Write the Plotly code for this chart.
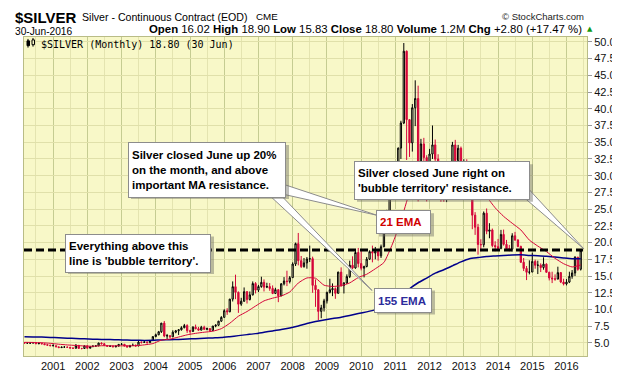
import plotly.graph_objects as go
import pandas as pd

# ---------------- data (monthly, Mar 2000 .. Jun 2016) ----------------
months = pd.date_range("2000-03-01", "2016-06-01", freq="MS")

opens = [
    5.06, 4.98, 4.99, 4.99, 5.06, 4.88, 4.96, 4.87, 4.75, 4.67,
    4.59, 4.60, 4.42, 4.31, 4.38, 4.38, 4.36, 4.24, 4.20, 4.65, 4.19, 4.18,
    4.58, 4.22, 4.44, 4.53, 4.56, 4.99, 4.88, 4.63, 4.52, 4.53, 4.42, 4.53,
    4.79, 4.81, 4.54, 4.40, 4.64, 4.65, 4.56, 5.14, 5.09, 5.13, 5.06, 5.35,
    5.96, 6.23, 6.68, 7.97, 6.05, 6.10, 5.92, 6.61, 6.82, 6.98, 7.28, 7.60,
    6.84, 6.73, 7.37, 7.13, 6.92, 7.35, 7.04, 7.15, 6.86, 7.53, 7.66, 8.26,
    8.83, 9.83, 9.66, 11.55, 13.41, 12.57, 10.80, 11.24, 12.67, 11.50, 12.19, 13.88,
    12.90, 13.43, 14.06, 13.34, 13.43, 13.15, 12.40, 12.97, 12.05, 13.84, 14.26, 14.18,
    14.76, 16.80, 19.84, 17.30, 16.42, 16.97, 17.54, 17.60, 13.61, 12.96, 9.72, 10.25,
    11.30, 12.57, 12.95, 13.12, 12.42, 15.59, 13.58, 13.97, 14.92, 16.62, 16.21, 18.52,
    16.87, 16.17, 16.43, 17.53, 18.65, 18.43, 18.69, 18.02, 19.39, 21.84, 24.71, 28.31,
    30.92, 27.91, 34.12, 37.87, 48.60, 38.37, 34.89, 40.15, 41.53, 29.96, 34.74, 32.70,
    27.92, 33.23, 34.60, 32.48, 31.20, 28.30, 27.44, 27.80, 31.25, 34.59, 32.24, 34.10,
    29.95, 31.86, 28.52, 28.35, 24.10, 22.30, 19.72, 19.68, 24.40, 21.69, 21.89, 19.55,
    19.39, 19.13, 21.22, 19.74, 19.07, 19.03, 21.02, 20.39, 19.42, 17.07, 16.14, 15.57,
    15.60, 17.19, 16.61, 16.63, 16.28, 16.78, 15.56, 14.72, 14.59, 14.54, 15.52, 14.11,
    13.82, 14.10, 14.96, 15.46, 17.83, 16.02,
]
highs = [
    5.15, 5.12, 5.08, 5.12, 5.10, 5.02, 5.02, 4.92, 4.80, 4.74,
    4.82, 4.62, 4.45, 4.45, 4.55, 4.46, 4.40, 4.34, 4.85, 4.67, 4.25, 4.62,
    4.60, 4.52, 4.64, 4.66, 5.04, 5.10, 5.02, 4.68, 4.62, 4.58, 4.62, 4.82,
    5.00, 4.82, 4.62, 4.70, 4.92, 4.78, 5.30, 5.20, 5.30, 5.22, 5.45, 5.98,
    6.40, 6.80, 7.99, 8.29, 6.35, 6.15, 6.90, 6.95, 7.03, 7.50, 7.85, 7.80,
    6.97, 7.50, 7.75, 7.40, 7.56, 7.58, 7.30, 7.20, 7.55, 7.78, 8.30, 9.00,
    10.05, 10.20, 11.60, 14.20, 15.21, 12.70, 11.75, 13.30, 12.75, 12.70, 14.20, 14.10,
    13.68, 14.90, 14.50, 14.00, 13.95, 13.60, 13.25, 12.98, 13.95, 14.85, 15.80, 15.00,
    17.05, 20.00, 21.44, 18.00, 17.70, 17.85, 19.55, 17.90, 14.50, 13.00, 10.70, 11.60,
    12.65, 14.60, 13.90, 13.30, 15.65, 16.30, 14.10, 15.25, 17.30, 17.95, 18.95, 19.20,
    18.85, 16.55, 17.85, 18.85, 19.55, 19.35, 18.70, 19.70, 21.90, 24.90, 29.35, 31.00,
    31.00, 34.20, 38.20, 49.82, 48.70, 38.40, 40.70, 44.25, 43.45, 35.50, 35.65, 33.05,
    34.00, 37.50, 35.40, 33.20, 31.45, 29.30, 28.60, 31.40, 35.05, 35.35, 34.60, 34.35,
    32.45, 32.45, 29.25, 28.45, 24.55, 22.80, 20.50, 24.65, 25.10, 22.90, 22.10, 20.20,
    20.55, 21.90, 21.95, 20.40, 19.65, 21.40, 21.60, 20.50, 19.55, 17.70, 16.50, 17.35,
    18.50, 17.45, 17.30, 16.90, 17.80, 16.90, 15.65, 15.65, 15.25, 16.40, 15.40, 14.60,
    14.55, 15.65, 15.90, 17.95, 17.85, 18.90,
]
lows = [
    4.92, 4.94, 4.90, 4.92, 4.85, 4.83, 4.82, 4.70, 4.62, 4.53,
    4.52, 4.38, 4.27, 4.30, 4.33, 4.26, 4.20, 4.18, 4.20, 4.12, 4.05, 4.16,
    4.20, 4.21, 4.41, 4.49, 4.54, 4.78, 4.60, 4.45, 4.45, 4.40, 4.36, 4.50,
    4.70, 4.50, 4.37, 4.37, 4.60, 4.46, 4.52, 4.92, 5.05, 4.90, 5.02, 5.30,
    5.85, 6.16, 6.50, 5.86, 5.50, 5.70, 5.89, 6.45, 6.20, 6.85, 7.20, 6.50,
    6.40, 6.66, 7.05, 6.84, 6.90, 6.98, 6.90, 6.70, 6.80, 7.35, 7.52, 8.16,
    8.80, 9.20, 9.60, 11.20, 11.55, 9.50, 10.55, 11.15, 10.90, 11.35, 12.10, 12.40,
    12.60, 13.25, 12.70, 13.20, 12.80, 12.30, 12.35, 11.10, 12.00, 13.60, 13.50, 13.90,
    14.75, 16.50, 16.60, 16.20, 16.25, 16.10, 17.10, 12.50, 10.40, 8.40, 8.70, 9.70,
    10.90, 12.40, 12.00, 11.60, 12.40, 13.40, 12.40, 13.85, 14.70, 16.05, 16.10, 16.30,
    15.85, 14.80, 16.30, 17.40, 17.05, 17.50, 17.30, 17.70, 19.30, 21.70, 24.70, 26.50,
    26.40, 27.20, 32.50, 37.70, 32.35, 32.80, 33.60, 37.40, 26.15, 29.80, 30.85, 26.15,
    27.90, 32.50, 31.50, 30.60, 26.10, 26.10, 26.05, 26.90, 31.10, 31.50, 30.30, 29.60,
    29.90, 28.05, 27.95, 22.00, 21.15, 18.20, 18.70, 19.30, 21.25, 20.65, 19.30, 18.70,
    18.95, 19.00, 19.55, 18.75, 18.70, 18.65, 20.25, 19.30, 16.95, 15.75, 14.40, 15.25,
    15.60, 16.10, 15.30, 15.60, 15.95, 15.60, 14.35, 13.95, 14.30, 14.60, 13.95, 13.60,
    13.60, 13.95, 14.60, 15.00, 15.80, 15.83,
]
closes = [
    4.98, 4.99, 4.99, 5.06, 4.88, 4.96, 4.87, 4.75, 4.67, 4.59,
    4.60, 4.42, 4.31, 4.38, 4.38, 4.36, 4.24, 4.20, 4.65, 4.19, 4.18, 4.58,
    4.22, 4.44, 4.53, 4.56, 4.99, 4.88, 4.63, 4.52, 4.53, 4.42, 4.53, 4.79,
    4.81, 4.54, 4.40, 4.64, 4.65, 4.56, 5.14, 5.09, 5.13, 5.06, 5.35, 5.96,
    6.23, 6.68, 7.97, 6.05, 6.10, 5.92, 6.61, 6.82, 6.98, 7.28, 7.60, 6.84,
    6.73, 7.37, 7.13, 6.92, 7.35, 7.04, 7.15, 6.86, 7.53, 7.66, 8.26, 8.83,
    9.83, 9.66, 11.55, 13.41, 12.57, 10.80, 11.24, 12.67, 11.50, 12.19, 13.88, 12.90,
    13.43, 14.06, 13.34, 13.43, 13.15, 12.40, 12.97, 12.05, 13.84, 14.26, 14.18, 14.76,
    16.80, 19.84, 17.30, 16.42, 16.97, 17.54, 17.60, 13.61, 12.96, 9.72, 10.25, 11.30,
    12.57, 12.95, 13.12, 12.42, 15.59, 13.58, 13.97, 14.92, 16.62, 16.21, 18.52, 16.87,
    16.17, 16.43, 17.53, 18.65, 18.43, 18.69, 18.02, 19.39, 21.84, 24.71, 28.31, 30.92,
    27.91, 34.12, 37.87, 48.60, 38.37, 34.89, 40.15, 41.53, 29.96, 34.74, 32.70, 27.92,
    33.23, 34.60, 32.48, 31.20, 28.30, 27.44, 27.80, 31.25, 34.59, 32.24, 34.10, 29.95,
    31.86, 28.52, 28.35, 24.10, 22.30, 19.72, 19.68, 24.40, 21.69, 21.89, 19.55, 19.39,
    19.13, 21.22, 19.74, 19.07, 19.03, 21.02, 20.39, 19.42, 17.07, 16.14, 15.57, 15.60,
    17.19, 16.61, 16.63, 16.28, 16.78, 15.56, 14.72, 14.59, 14.54, 15.52, 14.11, 13.82,
    14.10, 14.96, 15.46, 17.83, 16.00, 18.80,
]

# moving averages, one value per quarter-end month
ema_months = pd.date_range("2000-03-01", "2016-06-01", freq="3MS")
ema21 = [
    5.10, 5.08, 5.04, 4.95,
    4.82, 4.71, 4.63, 4.55,
    4.51, 4.59, 4.58, 4.58,
    4.58, 4.59, 4.72, 4.91,
    5.43, 5.58, 5.89, 6.22,
    6.44, 6.61, 6.76, 7.14,
    7.95, 9.00, 9.70, 10.52,
    11.29, 11.70, 12.02, 12.62,
    13.96, 14.72, 14.68, 13.63,
    13.45, 13.56, 13.98, 14.78,
    15.27, 16.09, 17.03, 19.80,
    23.23, 27.45, 29.80, 30.24,
    31.03, 30.49, 30.72, 31.04,
    30.65, 28.47, 26.86, 25.20,
    23.92, 22.89, 21.89, 20.37,
    19.48, 18.66, 17.65, 16.85,
    16.36, 16.66,
]
ema155 = [
    5.95, 5.91, 5.88, 5.83,
    5.78, 5.72, 5.67, 5.62,
    5.57, 5.54, 5.51, 5.47,
    5.44, 5.41, 5.39, 5.40,
    5.46, 5.48, 5.53, 5.59,
    5.65, 5.70, 5.76, 5.82,
    5.95, 6.10, 6.25, 6.40,
    6.60, 6.80, 7.00, 7.25,
    7.55, 7.90, 8.20, 8.45,
    8.65, 8.85, 9.10, 9.40,
    9.65, 9.95, 10.40, 11.10,
    12.00, 13.10, 14.00, 14.70,
    15.44, 15.95, 16.53, 17.12,
    17.59, 17.76, 17.92, 18.01,
    18.09, 18.15, 18.18, 18.09,
    18.04, 17.97, 17.84, 17.71,
    17.60, 17.60,
]
bubble_level = 18.90
year_labels = [str(y) for y in range(2001, 2017)]
price_ticks = [5.0 + 2.5 * i for i in range(19)]

# ---------------- styling ----------------
W, H = 620, 376
ML, MR, MT, MB = 16, 41, 29, 16
PLOT_BG = "#F8F8C8"
RED = "#D5063A"
BLUE = "#00008B"
FONT = "Liberation Sans"


def px(x):
    return (x - ML) / (W - ML - MR)


def py(y):
    return (H - MB - y) / (H - MT - MB)


fig = go.Figure()

fig.add_trace(go.Candlestick(
    x=months, open=opens, high=highs, low=lows, close=closes,
    increasing=dict(line=dict(color="black", width=1), fillcolor=PLOT_BG),
    decreasing=dict(line=dict(color=RED, width=1), fillcolor=RED),
    whiskerwidth=0, showlegend=False, hoverinfo="skip",
))
fig.add_trace(go.Scatter(x=ema_months, y=ema155, mode="lines",
                         line=dict(color=BLUE, width=1.5, shape="spline", smoothing=0.5),
                         showlegend=False, hoverinfo="skip"))
fig.add_trace(go.Scatter(x=ema_months, y=ema21, mode="lines",
                         line=dict(color=RED, width=1, shape="spline", smoothing=0.5),
                         showlegend=False, hoverinfo="skip"))

jan_ticks = [pd.Timestamp(f"{y}-01-01") for y in year_labels]
jul_ticks = [pd.Timestamp(f"{y}-07-01") for y in range(2000, 2017)]

fig.update_xaxes(
    type="date", range=["2000-02-25", "2016-08-07"],
    tickvals=jan_ticks, ticktext=year_labels, ticks="",
    showgrid=True, gridcolor="#C5CC92", gridwidth=1,
    minor=dict(tickvals=jul_ticks, showgrid=True, gridcolor="#E4E4B0", gridwidth=1, ticks=""),
    showline=True, linecolor="#B9BC86", linewidth=1, mirror=True,
    rangeslider=dict(visible=False), zeroline=False,
    tickfont=dict(family=FONT, size=11, color="#111111"),
)
fig.update_yaxes(
    side="right", range=[3.056, 50.72],
    tickvals=price_ticks, ticktext=[f"{v:.1f}" for v in price_ticks],
    ticks="outside", ticklen=4, tickcolor="#999999",
    showgrid=True, gridcolor="#E0E0AA", gridwidth=1,
    showline=True, linecolor="#B9BC86", linewidth=1, mirror=True, zeroline=False,
    tickfont=dict(family=FONT, size=11, color="#111111"),
)

shapes = []
# bubble territory dashed line
shapes.append(dict(type="line", xref="x", yref="y", x0="2000-02-25", x1="2016-06-25",
                   y0=bubble_level, y1=bubble_level, layer="above",
                   line=dict(color="black", width=3, dash="8px,4px")))


def tail(p1, p2, tip):
    path = "M {},{} L {},{} L {},{} Z".format(px(p1[0]), py(p1[1]), px(p2[0]), py(p2[1]),
                                              px(tip[0]), py(tip[1]))
    return dict(type="path", xref="paper", yref="paper", path=path, layer="above",
                fillcolor="white", line=dict(color="#8C8C8C", width=1))


shapes.append(tail((266, 190), (276, 182), (369, 214)))
shapes.append(tail((258, 190), (270, 190), (364, 292)))
shapes.append(tail((512, 192), (520, 186), (576, 249)))

# legend icon (two tiny candles)
shapes.append(dict(type="line", xref="paper", yref="paper", x0=px(20), x1=px(20), y0=py(31), y1=py(40),
                   line=dict(color="black", width=1)))
shapes.append(dict(type="rect", xref="paper", yref="paper", x0=px(19), x1=px(21.5), y0=py(33), y1=py(38),
                   fillcolor="black", line=dict(color="black", width=1)))
shapes.append(dict(type="line", xref="paper", yref="paper", x0=px(25), x1=px(25), y0=py(30), y1=py(39),
                   line=dict(color="black", width=1)))
shapes.append(dict(type="rect", xref="paper", yref="paper", x0=px(24), x1=px(26.5), y0=py(32), y1=py(37),
                   fillcolor=PLOT_BG, line=dict(color="black", width=1)))

annotations = []


def callout(text, left, top, right, bottom, color="black"):
    pad = 3
    w = right - left - 2 * pad - 2
    h = bottom - top - 2 * pad - 2
    # drop shadow as a plain rectangle behind the box
    shapes.append(dict(type="rect", xref="paper", yref="paper",
                       x0=px(left + 3), x1=px(right + 3), y0=py(bottom + 3), y1=py(top + 3),
                       fillcolor="rgba(110,110,100,0.45)", line=dict(width=0), layer="above"))
    annotations.append(dict(xref="paper", yref="paper", x=px(left), y=py(top),
                            xanchor="left", yanchor="top", width=w, height=h,
                            align="left", valign="middle", borderpad=pad, borderwidth=1,
                            showarrow=False, text=text, bgcolor="white", bordercolor="#8C8C8C",
                            font=dict(family=FONT, size=11.5, color=color)))


callout("<b>Everything above this<br>line is 'bubble territory'.</b>", 57, 233, 203, 272)
callout("<b>Silver closed June up 20%<br>on the month, and above<br>important MA resistance.</b>",
        120, 138, 278, 194)
callout("<b>Silver closed June right on<br>'bubble territory' resistance.</b>", 346, 158, 522, 197)
callout("<b>21 EMA</b>", 368, 209, 423, 233, color="#D00000")
callout("<b>155 EMA</b>", 366, 289, 424, 314, color="#2B2B9B")

# header texts
annotations.append(dict(xref="paper", yref="paper", x=px(5), y=py(9), xanchor="left", yanchor="middle",
                        showarrow=False, text="<b>$SILVER</b>",
                        font=dict(family=FONT, size=15, color="black")))
annotations.append(dict(xref="paper", yref="paper", x=px(72), y=py(8), xanchor="left", yanchor="middle",
                        showarrow=False, text="Silver - Continuous Contract (EOD)",
                        font=dict(family=FONT, size=10.6, color="black")))
annotations.append(dict(xref="paper", yref="paper", x=px(246), y=py(8), xanchor="left", yanchor="middle",
                        showarrow=False, text="CME",
                        font=dict(family=FONT, size=9.8, color="black")))
annotations.append(dict(xref="paper", yref="paper", x=px(578), y=py(8), xanchor="right", yanchor="middle",
                        showarrow=False, text="© StockCharts.com",
                        font=dict(family=FONT, size=9.5, color="#222222")))
annotations.append(dict(xref="paper", yref="paper", x=px(5), y=py(23.5), xanchor="left", yanchor="middle",
                        showarrow=False, text="30-Jun-2016",
                        font=dict(family=FONT, size=10.2, color="black")))
annotations.append(dict(xref="paper", yref="paper", x=px(576), y=py(21), xanchor="right", yanchor="middle",
                        showarrow=False,
                        text="<b>Open</b> 16.02 <b>High</b> 18.90 <b>Low</b> 15.83 <b>Close</b> 18.80 "
                             "<b>Volume</b> 1.2M <b>Chg</b> +2.80 (+17.47 %)",
                        font=dict(family=FONT, size=11.4, color="black")))
annotations.append(dict(xref="paper", yref="paper", x=px(582), y=py(21), xanchor="center", yanchor="middle",
                        showarrow=False, text="▲", font=dict(family="DejaVu Sans", size=7, color="#119911")))
# legend text inside plot
annotations.append(dict(xref="paper", yref="paper", x=px(31), y=py(36.5), xanchor="left", yanchor="middle",
                        showarrow=False, text="$SILVER (Monthly) 18.80 (30 Jun)",
                        font=dict(family="DejaVu Sans Mono", size=10, color="black")))

fig.update_layout(
    width=W, height=H, margin=dict(l=ML, r=MR, t=MT, b=MB, pad=0),
    paper_bgcolor="white", plot_bgcolor=PLOT_BG,
    shapes=shapes, annotations=annotations, showlegend=False,
    font=dict(family=FONT, size=11),
)

fig.write_html("out.html")
